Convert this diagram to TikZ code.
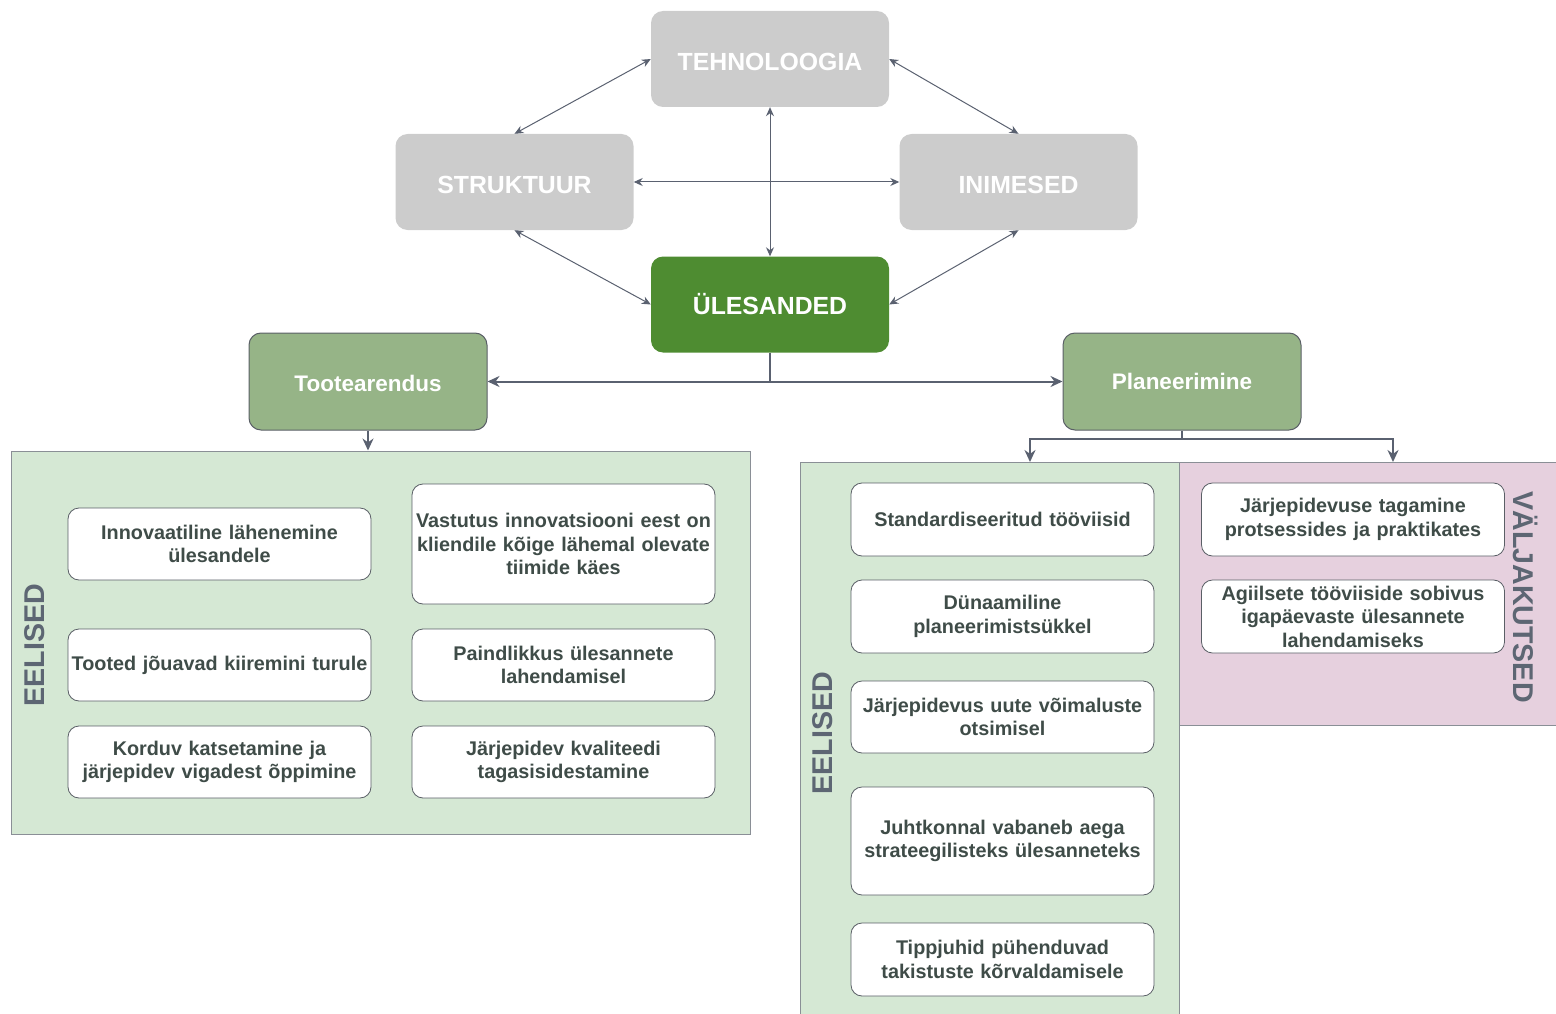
\documentclass[tikz,border=0pt]{standalone}
\usepackage{fontspec}
\setmainfont{Liberation Sans}
\usetikzlibrary{arrows.meta}
\definecolor{linec}{HTML}{5A6170}
\definecolor{greyfill}{HTML}{CCCCCC}
\definecolor{darkgreen}{HTML}{4E8C31}
\definecolor{midgreen}{HTML}{96B487}
\definecolor{panelgreen}{HTML}{D5E8D4}
\definecolor{panelpink}{HTML}{E6D0DE}
\definecolor{panelline}{HTML}{8A8F96}
\definecolor{boxtext}{HTML}{3F4C48}
\definecolor{labeltext}{HTML}{5D6673}
\definecolor{boxline}{HTML}{5A5F66}

\tikzset{
  topbox/.style={fill=greyfill, draw=none, rounded corners=12pt, minimum width=238pt,
    minimum height=96pt, inner sep=0pt, text=white, font=\bfseries\fontsize{24.8}{28}\selectfont},
  lowtext/.style={text height=23pt, text depth=0pt},
  taskbox/.style={topbox, fill=darkgreen},
  areabox/.style={fill=midgreen, draw=boxline, line width=1pt, rounded corners=12pt,
    minimum width=238pt, minimum height=97pt, inner sep=0pt, text=white,
    font=\bfseries\fontsize{22.5}{26}\selectfont},
  panel/.style={draw=panelline, line width=1pt, inner sep=0pt},
  cell/.style={draw=boxline, fill=white, line width=0.8pt, rounded corners=11pt,
    minimum width=303pt, text width=303pt, inner sep=0pt, align=center, text=boxtext,
    font=\bfseries\fontsize{19.8}{23.5}\selectfont},
  sidelabel/.style={text=labeltext, inner sep=0pt, font=\bfseries\fontsize{28.6}{32}\selectfont},
  thinlink/.style={draw=linec, line width=1pt, {Stealth[length=9pt,width=8pt]}-{Stealth[length=9pt,width=8pt]}},
  mainlink/.style={draw=linec, line width=2pt, -{Stealth[length=12pt,width=11pt]}},
  mainline/.style={draw=linec, line width=2pt},
}

\begin{document}
\begin{tikzpicture}[x=1pt,y=-1pt]
\useasboundingbox (0,0) rectangle (1556,1014);

% socio-technical core
\node[topbox, lowtext] (tech) at (770,59)     {TEHNOLOOGIA};
\node[topbox, lowtext] (strk) at (514.5,182)  {STRUKTUUR};
\node[topbox, lowtext] (inim) at (1018.5,182) {INIMESED};
\node[taskbox]         (ules) at (770,304.5)  {ÜLESANDED};

\draw[thinlink] (tech.west) -- (strk.north);
\draw[thinlink] (tech.east) -- (inim.north);
\draw[thinlink] (strk.south) -- (ules.west);
\draw[thinlink] (inim.south) -- (ules.east);
\draw[thinlink] (tech.south) -- (ules.north);
\draw[thinlink] (strk.east) -- (inim.west);

% application areas
\node[areabox, text height=20pt, text depth=0pt] (toote) at (368,381.5) {Tootearendus};
\node[areabox] (plan)  at (1182,381.5) {Planeerimine};

\draw[mainlink] (ules.south) |- (toote.east);
\draw[mainlink] (ules.south) |- (plan.west);

% panels
\node[panel, fill=panelgreen, minimum width=739pt, minimum height=383pt] (panL) at (380.5,642.5) {};
\node[panel, fill=panelgreen, minimum width=379pt, minimum height=560pt] (panG) at (989.5,742) {};
\node[panel, fill=panelpink,  minimum width=381pt, minimum height=263pt] (panP) at (1369.5,593.5) {};

\draw[mainlink] (toote.south) -- (toote.south |- panL.north);

\path (plan.south) ++(0,8) coordinate (pfork);
\coordinate (gtop) at (1030,462);
\coordinate (ptop) at (1393,462);
\draw[mainline] (plan.south) -- (pfork);
\draw[mainlink] (pfork) -| (gtop);
\draw[mainlink] (pfork) -| (ptop);

% product development benefits
\node[sidelabel, rotate=90] (eelL) at (35,645) {EELISED};
\node[cell, minimum height=72pt]  (a1) at (219.5,544)  {Innovaatiline lähenemine\\ülesandele};
\node[cell, minimum height=72pt]  (a2) at (219.5,665)  {Tooted jõuavad kiiremini turule};
\node[cell, minimum height=72pt]  (a3) at (219.5,762)  {Korduv katsetamine ja\\järjepidev vigadest õppimine};
\node[cell, minimum height=120pt] (b1) at (563.5,544)  {Vastutus innovatsiooni eest on\\kliendile kõige lähemal olevate\\tiimide käes};
\node[cell, minimum height=72pt]  (b2) at (563.5,665)  {Paindlikkus ülesannete\\lahendamisel};
\node[cell, minimum height=72pt]  (b3) at (563.5,762)  {Järjepidev kvaliteedi\\tagasisidestamine};

% planning benefits
\node[sidelabel, rotate=90] (eelR) at (823,733) {EELISED};
\node[cell, minimum height=73pt]  (c1) at (1002.5,519.5) {Standardiseeritud tööviisid};
\node[cell, minimum height=73pt]  (c2) at (1002.5,616.5) {Dünaamiline\\planeerimistsükkel};
\node[cell, minimum height=72pt]  (c3) at (1002.5,717)   {Järjepidevus uute võimaluste\\otsimisel};
\node[cell, minimum height=108pt] (c4) at (1002.5,841)   {Juhtkonnal vabaneb aega\\strateegilisteks ülesanneteks};
\node[cell, minimum height=73pt]  (c5) at (1002.5,959.5) {Tippjuhid pühenduvad\\takistuste kõrvaldamisele};

% planning challenges
\node[sidelabel, rotate=-90] (valj) at (1526,597) {VÄLJAKUTSED};
\node[cell, minimum height=73pt]  (d1) at (1353,519.5) {Järjepidevuse tagamine\\protsessides ja praktikates};
\node[cell, minimum height=73pt]  (d2) at (1353,616.5) {Agiilsete tööviiside sobivus\\igapäevaste ülesannete\\lahendamiseks};
\end{tikzpicture}
\end{document}
